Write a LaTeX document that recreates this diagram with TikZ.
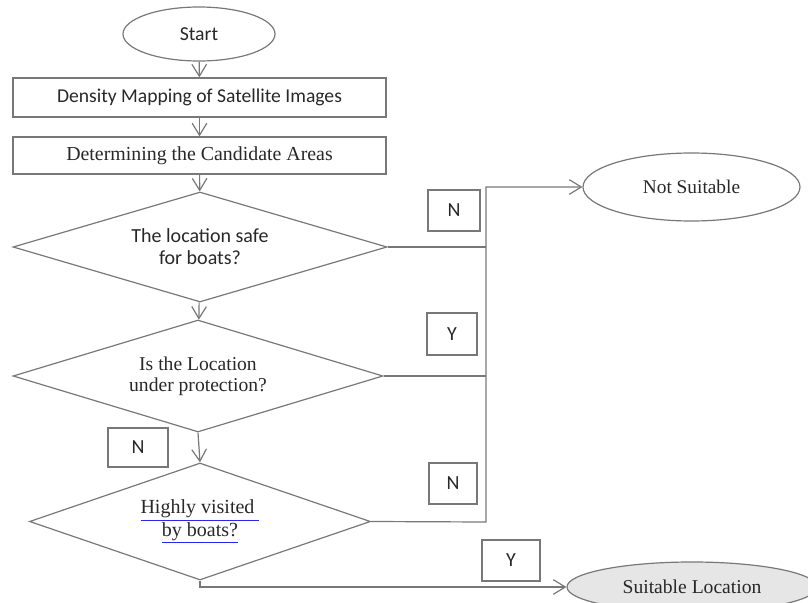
\documentclass[tikz,border=0pt]{standalone}
\usepackage{fontspec}
\setmainfont{Liberation Serif}
\setsansfont{Carlito}
\usetikzlibrary{shapes.geometric,arrows.meta}

\definecolor{lineGray}{RGB}{120,120,120}
\definecolor{fillGray}{RGB}{230,230,230}
\definecolor{textGray}{RGB}{40,40,40}
\definecolor{spellBlue}{RGB}{40,40,235}

\newcommand{\spellmark}[1]{\textcolor{spellBlue}{\underline{\textcolor{textGray}{#1}}}}

\begin{document}
\begin{tikzpicture}[x=0.75pt,y=0.75pt,yscale=-1,xscale=1,
  flowline/.style={draw=lineGray,line width=0.9pt},
  flowarrow/.style={flowline,-{Straight Barb[length=9pt,width=11pt]}},
  procbox/.style={flowline,rectangle,minimum width=279.75pt,inner sep=0pt,text=textGray},
  decision/.style={flowline,diamond,aspect=3.4,inner sep=0pt,align=center,text=textGray},
  terminal/.style={flowline,ellipse,inner sep=0pt,text=textGray},
  answer/.style={flowline,rectangle,inner sep=0pt,text=textGray,font=\sffamily\fontsize{15}{17}\selectfont}
]
\useasboundingbox (0,0) rectangle (808,603);

% Terminal Nodes
\node [terminal,minimum width=114pt,minimum height=40.5pt,font=\sffamily\fontsize{14.8}{17}\selectfont] (start) at (199,34) {Start};
\node [terminal,minimum width=162.75pt,minimum height=51pt,font=\fontsize{14.5}{17}\selectfont] (notsuit) at (691.5,187) {Not Suitable};
\node [terminal,fill=fillGray,minimum width=187.5pt,minimum height=37.5pt,font=\fontsize{14.7}{17}\selectfont] (suit) at (692,587) {Suitable Location};

% Process Boxes
\node [procbox,minimum height=29.25pt,font=\sffamily\fontsize{14.7}{17}\selectfont] (mapping) at (199.5,97.5) {Density Mapping of Satellite Images};
\node [procbox,minimum height=27.75pt,font=\fontsize{14.9}{17}\selectfont] (areas) at (199.5,155.5) {Determining the Candidate Areas};

% Decisions
\node [decision,minimum width=280.5pt,minimum height=82.5pt,font=\sffamily\fontsize{15}{16.5}\selectfont] (safe) at (200,247) {The location safe\\for boats?};
\node [decision,minimum width=277.5pt,minimum height=84pt,font=\fontsize{14.7}{15.75}\selectfont] (protect) at (198,376) {Is the Location\\under protection?};
\node [decision,minimum width=255.75pt,minimum height=87.75pt,font=\fontsize{15}{15}\selectfont] (visited) at (200,521.5) {\spellmark{Highly visited }\\\spellmark{by boats?}};

% Answer Labels
\node [answer,minimum width=39pt,minimum height=30.75pt] (nsafe) at (454,210.5) {N};
\node [answer,minimum width=37.5pt,minimum height=31.5pt] (yprotect) at (452,334) {Y};
\node [answer,minimum width=45pt,minimum height=29.25pt] (nprotect) at (138,447.5) {N};
\node [answer,minimum width=36pt,minimum height=30.75pt] (nvisited) at (453,483.5) {N};
\node [answer,minimum width=43.5pt,minimum height=30.75pt] (yvisited) at (511,560.5) {Y};

% Bus Line
\coordinate (bustop) at (486,187);
\coordinate (busbot) at (486,522);

% Arrows
\draw [flowarrow] (start) -- (mapping);
\draw [flowarrow] (mapping) -- (areas);
\draw [flowarrow] (areas) -- (safe);
\draw [flowarrow] (safe) -- (protect);
\draw [flowarrow] (protect.south) -- (visited.north);
\draw [flowline] (safe.east) -- (safe.east -| bustop);
\draw [flowline] (protect.east) -- (protect.east -| bustop);
\draw [flowarrow] (visited.east) -- (busbot) -- (bustop) -- (notsuit.west);
\draw [flowarrow] (visited.south) |- (suit.west);

\end{tikzpicture}
\end{document}
